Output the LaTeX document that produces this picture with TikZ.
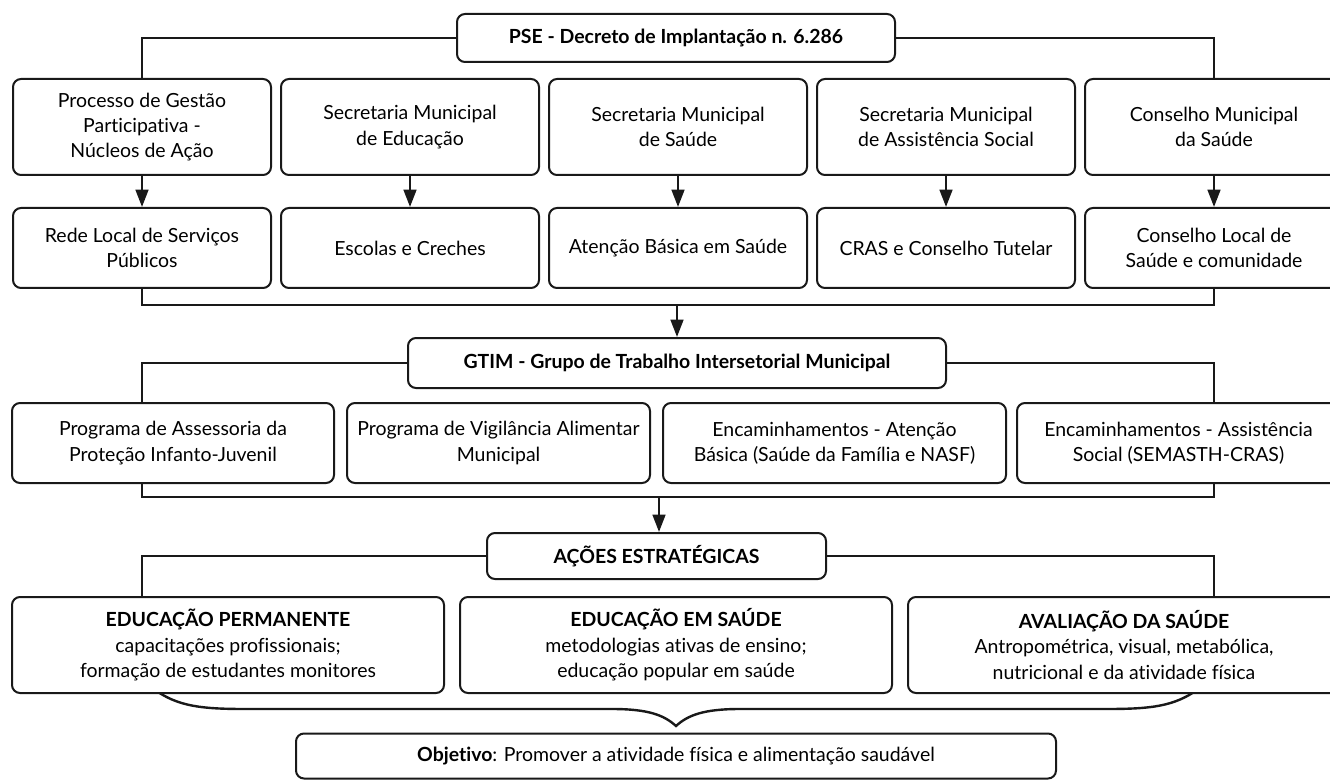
\documentclass[tikz,border=0pt]{standalone}
\usepackage{fontspec}
\setmainfont{Lato}[RawFeature=-liga]
\usetikzlibrary{arrows.meta}
\tikzset{
  box/.style={draw=black!90, line width=1.5pt, rounded corners=6pt, fill=white, align=center, inner sep=0pt,
    font=\fontsize{14.6}{19}\selectfont},
  hbox/.style={box, font=\fontsize{14.6}{19}\selectfont\bfseries},
  conn/.style={draw=black!90, line width=1.9pt},
  arr/.style={conn, -{Triangle[width=9.5pt,length=13pt]}},
}
\begin{document}
\begin{tikzpicture}[x=0.75pt,y=-0.75pt]
\clip (0,0) rectangle (1330,780);
\fill[white] (0,0) rectangle (1330,780);
% brace
\draw[conn, line width=1.8pt] (155,690) .. controls (178,706) and (200,709) .. (245,709) -- (612,709)
  .. controls (648,709) and (664,715) .. (676,726)
  .. controls (688,715) and (704,709) .. (740,709) -- (1107,709)
  .. controls (1152,709) and (1174,706) .. (1197,690);
% top
\node[hbox, minimum width=438*0.75pt, minimum height=48*0.75pt] (pse) at (676,38) {PSE - Decreto de Implantação n. 6.286};
% row 1
\foreach \n/\x/\t in {r1a/142/{Processo de Gestão\\Participativa -\\Núcleos de Ação},
                      r1b/410/{Secretaria Municipal\\de Educação},
                      r1c/678/{Secretaria Municipal\\de Saúde},
                      r1d/946/{Secretaria Municipal\\de Assistência Social},
                      r1e/1214/{Conselho Municipal\\da Saúde}}
  \node[box, minimum width=258*0.75pt, minimum height=96*0.75pt] (\n) at (\x,127) {\t};
% row 2
\foreach \n/\x/\t in {r2a/142/{Rede Local de Serviços\\Públicos},
                      r2b/410/{Escolas e Creches},
                      r2c/678/{Atenção Básica em Saúde},
                      r2d/946/{CRAS e Conselho Tutelar},
                      r2e/1214/{Conselho Local de\\Saúde e comunidade}}
  \node[box, minimum width=258*0.75pt, minimum height=80*0.75pt] (\n) at (\x,248) {\t};
% GTIM
\node[hbox, minimum width=538*0.75pt, minimum height=50*0.75pt] (gtim) at (677,363) {GTIM - Grupo de Trabalho Intersetorial Municipal};
% row 3
\node[box, minimum width=322*0.75pt, minimum height=80*0.75pt] (r3a) at (173,443) {Programa de Assessoria da\\Proteção Infanto-Juvenil};
\node[box, minimum width=303*0.75pt, minimum height=80*0.75pt] (r3b) at (498.5,443) {Programa de Vigilância Alimentar\\Municipal};
\node[box, minimum width=343*0.75pt, minimum height=80*0.75pt] (r3c) at (834.5,443) {Encaminhamentos - Atenção\\Básica (Saúde da Família e NASF)};
\node[box, minimum width=323*0.75pt, minimum height=80*0.75pt] (r3d) at (1178.5,443) {Encaminhamentos - Assistência\\Social (SEMASTH-CRAS)};
% AÇÕES
\node[hbox, minimum width=339*0.75pt, minimum height=46*0.75pt] (acoes) at (656.5,556) {AÇÕES ESTRATÉGICAS};
% row 4
\node[box, minimum width=432*0.75pt, minimum height=96*0.75pt] (r4a) at (228,645) {\textbf{EDUCAÇÃO PERMANENTE}\\capacitações profissionais;\\formação de estudantes monitores};
\node[box, minimum width=432*0.75pt, minimum height=96*0.75pt] (r4b) at (676,645) {\textbf{EDUCAÇÃO EM SAÚDE}\\metodologias ativas de ensino;\\educação popular em saúde};
\node[box, minimum width=432*0.75pt, minimum height=96*0.75pt] (r4c) at (1124,645) {\textbf{AVALIAÇÃO DA SAÚDE}\\Antropométrica, visual, metabólica,\\nutricional e da atividade física};
% objetivo
\node[box, minimum width=760*0.75pt, minimum height=45*0.75pt] (obj) at (676,756) {\textbf{Objetivo}: Promover a atividade física e alimentação saudável};
% junctions
\coordinate (j1) at (677,305);
\coordinate (j2) at (659,497);
% connectors
\draw[conn] (pse.west) -| (r1a.north);
\draw[conn] (pse.east) -| (r1e.north);
\foreach \a/\b in {r1a/r2a,r1b/r2b,r1c/r2c,r1d/r2d,r1e/r2e}
  \draw[arr] (\a.south) -- (\b.north);
\draw[conn] (r2a.south) |- (j1) -| (r2e.south);
\draw[arr] (j1) -- (j1 |- gtim.north);
\draw[conn] (gtim.west) -| (r2a |- r3a.north);
\draw[conn] (gtim.east) -| (r2e |- r3a.north);
\draw[conn] (r2a |- r3a.south) |- (j2) -| (r2e |- r3a.south);
\draw[arr] (j2) -- (j2 |- acoes.north);
\draw[conn] (acoes.west) -| (r2a |- r4a.north);
\draw[conn] (acoes.east) -| (r2e |- r4a.north);
\end{tikzpicture}
\end{document}
